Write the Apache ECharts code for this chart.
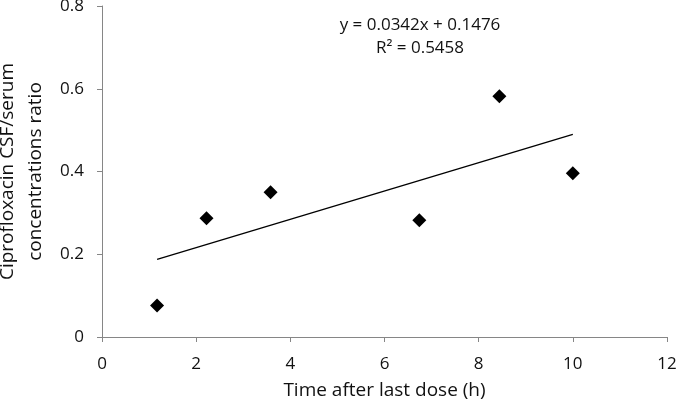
<!DOCTYPE html>
<html><head><meta charset="utf-8">
<script src="https://cdn.jsdelivr.net/npm/echarts@6/dist/echarts.min.js"></script>
<style>html,body{margin:0;padding:0;background:#fff}#c{width:680px;height:403px}</style>
</head><body><div id="c"></div>
<script>
const timeH = [1.17, 2.22, 3.58, 6.74, 8.44, 10.0];
const ratio = [0.076, 0.287, 0.350, 0.282, 0.582, 0.396];
const slope = 0.0342, intercept = 0.1476;
const fitRange = [1.17, 10.0];
const eqText = ['y = 0.0342x + 0.1476', 'R² = 0.5458'];
const xTicks = {min: 0, max: 12, interval: 2};
const yTicks = {min: 0, max: 0.8, interval: 0.2};

const pts = timeH.map((t, i) => [t, ratio[i]]);
const fit = fitRange.map(x => [x, slope * x + intercept]);
const font = '"Open Sans", sans-serif';
const txt = '#111';
const chart = echarts.init(document.getElementById('c'));
chart.setOption({
  animation: false,
  grid: {left: 102, right: 13, top: 6, bottom: 66, containLabel: false, outerBoundsMode: 'none'},
  xAxis: {
    type: 'value', min: xTicks.min, max: xTicks.max, interval: xTicks.interval,
    name: 'Time after last dose (h)', nameLocation: 'middle', nameGap: 44,
    nameTextStyle: {fontFamily: font, fontSize: 19, color: txt},
    axisLine: {show: true, lineStyle: {color: '#868686', width: 1}},
    axisTick: {show: true, length: 5, lineStyle: {color: '#868686'}},
    axisLabel: {fontFamily: font, fontSize: 17, color: txt, margin: 19},
    splitLine: {show: false}
  },
  yAxis: {
    type: 'value', min: yTicks.min, max: yTicks.max, interval: yTicks.interval,
    name: 'Ciprofloxacin CSF/serum\nconcentrations ratio', nameLocation: 'middle', nameGap: 48,
    nameTextStyle: {fontFamily: font, fontSize: 19, color: txt, lineHeight: 28},
    axisLine: {show: true, lineStyle: {color: '#868686', width: 1}},
    axisTick: {show: true, length: 5, lineStyle: {color: '#868686'}},
    axisLabel: {fontFamily: font, fontSize: 17, color: txt, margin: 18,
      formatter: v => v === 0 ? '0' : v.toFixed(1)},
    splitLine: {show: false}
  },
  graphic: [{
    type: 'text', x: 420, y: 14,
    style: {text: eqText.join('\n'), fontFamily: font, fontSize: 17, fill: txt,
      textAlign: 'center', lineHeight: 23}
  }],
  series: [
    {type: 'line', data: fit, symbol: 'none', lineStyle: {color: '#000', width: 1.3}, z: 2},
    {type: 'scatter', data: pts, symbol: 'diamond', symbolSize: 14, itemStyle: {color: '#000', opacity: 1}, z: 3}
  ]
});
</script></body></html>
